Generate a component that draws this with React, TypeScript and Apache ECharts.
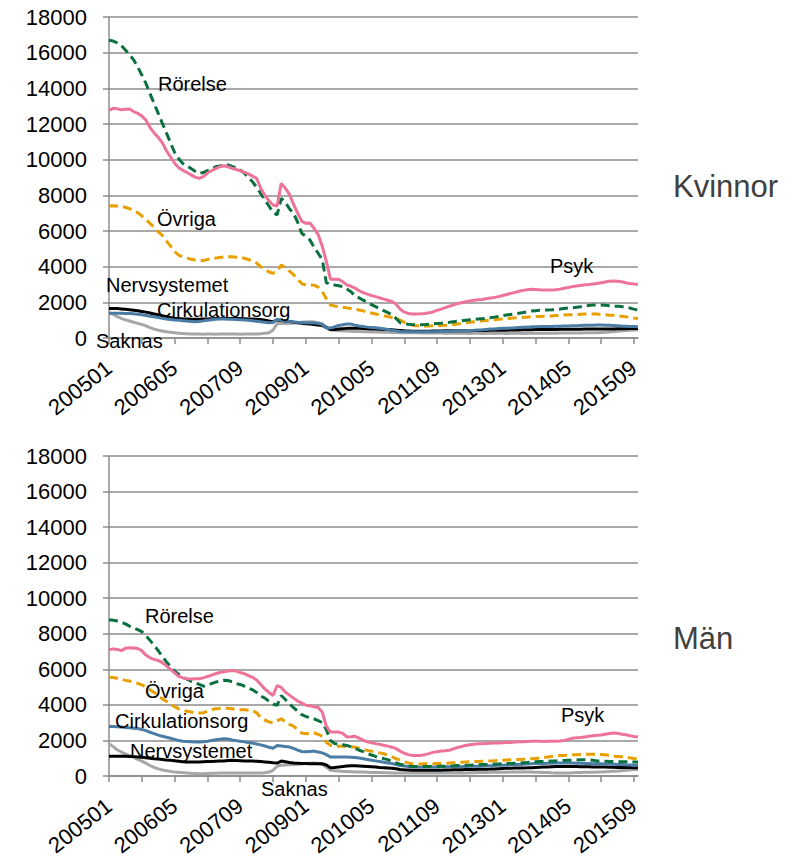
import React, { useEffect, useRef } from "react";
import * as echarts from "echarts";

// Month categories 200501 .. 201510
const months: string[] = [];
for (let y = 2005; y <= 2015; y++) {
  for (let m = 1; m <= 12; m++) {
    if (y === 2015 && m > 10) break;
    months.push(`${y}${m < 10 ? "0" + m : m}`);
  }
}

const yTicks = { min: 0, max: 18000, interval: 2000 };

// ---------- Kvinnor ----------
const kRorelse = [
  16700, 16650, 16550, 16400, 16150, 15900, 15600, 15200, 14750, 14280,
  13700, 13150, 12600, 12040, 11500, 10950, 10400, 10050, 9790, 9650,
  9500, 9350, 9230, 9280, 9380, 9480, 9600, 9650, 9700, 9700,
  9620, 9530, 9420, 9250, 9000, 8760, 8450, 8100, 7740, 7400,
  7050, 6900, 7830, 7600, 7250, 6990, 6500, 5870, 5700, 5500,
  5100, 4750, 4400, 3100, 3000, 2970, 2930, 2880, 2750, 2600,
  2350, 2250, 2120, 2000, 1870, 1760, 1650, 1530, 1420, 1300,
  1100, 850, 800, 770, 750, 730, 740, 750, 770, 790,
  810, 830, 860, 880, 910, 940, 970, 1000, 1020, 1040,
  1060, 1080, 1100, 1130, 1170, 1210, 1260, 1290, 1320, 1350,
  1390, 1430, 1470, 1510, 1530, 1550, 1560, 1570, 1580, 1600,
  1620, 1650, 1680, 1700, 1720, 1750, 1790, 1820, 1850, 1860,
  1850, 1830, 1810, 1790, 1780, 1760, 1720, 1680, 1620, 1570,
];
const kPsyk = [
  12780, 12880, 12850, 12800, 12830, 12840, 12700, 12600, 12450, 12220,
  11800, 11500, 11250, 10950, 10500, 10150, 9800, 9550, 9400, 9280,
  9150, 9020, 8950, 9050, 9250, 9380, 9500, 9600, 9660, 9600,
  9520, 9450, 9380, 9300, 9200, 9080, 8960, 8400, 8000, 7700,
  7460, 7400, 8670, 8400, 8050, 7500, 7000, 6550, 6430, 6450,
  6150, 5800, 5150, 4300, 3300, 3290, 3290, 3150, 2980, 2900,
  2800, 2650, 2540, 2460, 2380, 2320, 2250, 2180, 2120, 2050,
  1900, 1620, 1450, 1380, 1350, 1350, 1360, 1380, 1410, 1460,
  1550, 1620, 1700, 1780, 1860, 1930, 1980, 2030, 2080, 2120,
  2140, 2160, 2200, 2240, 2270, 2320, 2380, 2440, 2500, 2560,
  2620, 2670, 2710, 2730, 2720, 2700, 2690, 2690, 2690, 2700,
  2740, 2790, 2830, 2880, 2920, 2950, 2980, 3000, 3030, 3060,
  3100, 3140, 3180, 3200, 3180, 3150, 3100, 3060, 3030, 3020,
];
const kOvriga = [
  7400, 7420, 7400, 7370, 7330, 7250, 7150, 7030, 6850, 6650,
  6430, 6200, 5950, 5750, 5450, 5150, 4850, 4650, 4550, 4480,
  4420, 4370, 4340, 4340, 4400, 4450, 4480, 4520, 4550, 4560,
  4550, 4530, 4520, 4470, 4400, 4330, 4200, 4000, 3850, 3700,
  3630, 3750, 4090, 3950, 3750, 3550, 3300, 3050, 2970, 2970,
  2960, 2850, 2600, 2200, 1850, 1800, 1760, 1720, 1690, 1650,
  1610, 1570, 1520, 1460, 1400, 1350, 1300, 1250, 1200, 1150,
  1100, 1000, 880, 780, 720, 690, 680, 670, 670, 680,
  690, 700, 710, 730, 760, 790, 820, 850, 880, 910,
  930, 960, 980, 1000, 1020, 1050, 1070, 1090, 1110, 1130,
  1150, 1160, 1170, 1190, 1200, 1210, 1220, 1230, 1240, 1260,
  1270, 1290, 1300, 1310, 1320, 1330, 1340, 1350, 1350, 1340,
  1320, 1300, 1280, 1270, 1250, 1220, 1190, 1160, 1120, 1100,
];
const kNerv = [
  1660, 1660, 1650, 1630, 1610, 1590, 1560, 1530, 1490, 1450,
  1400, 1350, 1300, 1250, 1200, 1150, 1110, 1090, 1070, 1060,
  1050, 1050, 1050, 1060, 1070, 1080, 1090, 1100, 1100, 1100,
  1100, 1100, 1090, 1080, 1070, 1060, 1050, 1040, 1000, 950,
  910, 1010, 980, 950, 920, 890, 860, 830, 800, 780,
  760, 730, 700, 600, 470, 480, 500, 520, 540, 550,
  550, 540, 530, 520, 510, 500, 490, 480, 470, 460,
  440, 420, 400, 390, 380, 380, 380, 380, 380, 390,
  390, 390, 400, 400, 400, 410, 410, 410, 410, 420,
  420, 420, 420, 430, 430, 430, 440, 440, 450, 450,
  450, 460, 460, 460, 470, 470, 470, 480, 480, 480,
  490, 490, 490, 490, 490, 490, 500, 500, 500, 500,
  510, 510, 510, 510, 520, 520, 520, 530, 530, 530,
];
const kCirk = [
  1380, 1390, 1390, 1390, 1380, 1380, 1360, 1330, 1300, 1260,
  1220, 1190, 1150, 1110, 1070, 1040, 1010, 990, 970, 950,
  930, 910, 930, 960, 990, 1020, 1050, 1060, 1060, 1050,
  1050, 1040, 1030, 1010, 990, 970, 940, 910, 880, 860,
  870, 1050, 1000, 950, 920, 900, 880, 870, 860, 850,
  840, 820, 750, 560, 560, 620, 700, 740, 780, 780,
  720, 670, 640, 610, 590, 570, 550, 520, 480, 440,
  400, 360, 350, 350, 350, 350, 350, 350, 350, 350,
  350, 360, 370, 380, 390, 400, 400, 410, 420, 430,
  450, 460, 480, 500, 510, 530, 540, 550, 560, 570,
  590, 600, 610, 630, 630, 640, 640, 650, 650, 660,
  660, 670, 670, 680, 690, 700, 710, 720, 720, 730,
  730, 720, 710, 700, 690, 670, 660, 650, 640, 630,
];
const kSaknas = [
  1450, 1330, 1200, 1100, 1020, 950, 880, 820, 760, 680,
  580, 500, 440, 390, 350, 320, 290, 270, 250, 240,
  230, 220, 220, 215, 220, 220, 215, 220, 220, 225,
  220, 220, 215, 220, 220, 230, 230, 240, 260, 300,
  450, 800, 820, 820, 820, 840, 860, 880, 900, 910,
  900, 860, 800, 600, 450, 430, 410, 400, 390, 380,
  370, 360, 350, 345, 340, 335, 330, 325, 320, 315,
  310, 300, 300, 295, 290, 290, 285, 285, 280, 280,
  275, 275, 270, 270, 265, 265, 260, 260, 255, 260,
  260, 255, 260, 260, 255, 260, 260, 255, 260, 260,
  260, 255, 260, 260, 260, 265, 265, 270, 270, 270,
  275, 275, 280, 280, 285, 285, 290, 290, 295, 300,
  310, 320, 340, 360, 380, 400, 420, 430, 450, 460,
];

// ---------- Män ----------
const mRorelse = [
  8785, 8760, 8720, 8650, 8560, 8430, 8330, 8230, 8120, 7900,
  7630, 7350, 7050, 6720, 6420, 6150, 5900, 5720, 5550, 5450,
  5330, 5250, 5150, 5050, 5100, 5200, 5280, 5340, 5380, 5370,
  5300, 5200, 5150, 5050, 4950, 4850, 4700, 4500, 4380, 4200,
  4050, 3970, 4530, 4300, 4060, 3850, 3650, 3450, 3350, 3280,
  3220, 3120, 3000, 2600, 2000, 1830, 1790, 1760, 1720, 1640,
  1550, 1450, 1370, 1260, 1180, 1100, 1030, 980, 920, 820,
  730, 660, 600, 560, 540, 530, 535, 530, 540, 545,
  540, 550, 555, 560, 570, 585, 590, 600, 610, 615,
  630, 640, 645, 660, 670, 680, 690, 700, 705, 720,
  730, 750, 765, 790, 800, 810, 820, 830, 845, 850,
  860, 870, 880, 890, 900, 910, 920, 910, 880, 850,
  840, 830, 820, 810, 800, 805, 800, 790, 790, 790,
];
const mPsyk = [
  7100, 7150, 7120, 7050, 7180, 7210, 7200, 7170, 7050, 6800,
  6650, 6560, 6500, 6380, 6200, 6000, 5800, 5600, 5520, 5470,
  5460, 5470, 5470, 5520, 5600, 5670, 5750, 5820, 5860, 5900,
  5940, 5900, 5820, 5760, 5650, 5550, 5400, 5150, 4900, 4700,
  4530, 5090, 4980, 4720, 4550, 4380, 4220, 4100, 3980, 3950,
  3900, 3850, 3600, 2800, 2470, 2480, 2470, 2400, 2200, 2210,
  2230, 2130, 2020, 1920, 1870, 1820, 1780, 1730, 1680, 1620,
  1540, 1400, 1280, 1200, 1160, 1150, 1160, 1200, 1260, 1330,
  1370, 1400, 1420, 1450, 1530, 1600, 1660, 1720, 1760, 1790,
  1810, 1820, 1830, 1840, 1850, 1850, 1870, 1880, 1890, 1910,
  1920, 1930, 1940, 1950, 1950, 1950, 1940, 1950, 1960, 1960,
  1970, 2000, 2060, 2120, 2150, 2170, 2200, 2230, 2260, 2290,
  2310, 2350, 2390, 2420, 2400, 2350, 2320, 2270, 2220, 2190,
];
const mOvriga = [
  5560, 5540, 5500, 5440, 5380, 5340, 5280, 5210, 5130, 5000,
  4850, 4700, 4500, 4350, 4200, 4050, 3900, 3780, 3700, 3640,
  3600, 3570, 3550, 3560, 3640, 3730, 3780, 3800, 3820, 3810,
  3780, 3740, 3730, 3720, 3700, 3690, 3550, 3300, 3150, 3050,
  2980, 3100, 3220, 3050, 2900, 2800, 2600, 2420, 2380, 2390,
  2420, 2350, 2230, 1900, 1720, 1700, 1680, 1670, 1660, 1640,
  1620, 1560, 1500, 1440, 1400, 1350, 1300, 1250, 1170, 1080,
  980, 880, 800, 740, 690, 680, 680, 690, 690, 690,
  700, 710, 720, 730, 740, 750, 770, 790, 800, 810,
  820, 830, 840, 850, 860, 880, 890, 900, 910, 920,
  930, 940, 960, 970, 990, 1010, 1040, 1070, 1100, 1130,
  1150, 1160, 1180, 1190, 1200, 1210, 1220, 1220, 1220, 1220,
  1210, 1190, 1160, 1120, 1100, 1080, 1050, 1020, 990, 970,
];
const mNerv = [
  1110, 1110, 1110, 1110, 1110, 1100, 1090, 1070, 1050, 1030,
  1000, 970, 950, 930, 900, 880, 860, 830, 800, 790,
  790, 790, 790, 800, 810, 820, 830, 840, 850, 870,
  880, 870, 860, 850, 840, 840, 830, 810, 790, 770,
  740, 730, 840, 800, 760, 730, 720, 710, 700, 690,
  690, 690, 690, 620, 470, 480, 500, 530, 560, 580,
  570, 560, 550, 540, 520, 500, 480, 470, 450, 430,
  410, 370, 350, 340, 330, 325, 320, 320, 320, 320,
  325, 330, 335, 340, 345, 350, 355, 360, 365, 370,
  375, 380, 385, 390, 400, 410, 420, 430, 440, 445,
  450, 455, 460, 470, 480, 490, 500, 510, 520, 530,
  535, 540, 540, 535, 530, 525, 520, 515, 510, 510,
  505, 500, 495, 490, 485, 480, 480, 475, 470, 470,
];
const mCirk = [
  2790, 2780, 2770, 2750, 2730, 2710, 2690, 2670, 2620, 2550,
  2460, 2380, 2300, 2240, 2180, 2120, 2060, 2000, 1960, 1940,
  1920, 1910, 1910, 1930, 1960, 2000, 2040, 2070, 2100, 2080,
  2030, 1990, 1950, 1920, 1880, 1850, 1800, 1750, 1690, 1620,
  1560, 1720, 1690, 1660, 1630, 1550, 1460, 1380, 1360, 1380,
  1400, 1350, 1300, 1200, 1070, 1070, 1070, 1070, 1070, 1060,
  1040, 1010, 970, 930, 890, 850, 810, 770, 730, 700,
  650, 590, 560, 530, 510, 510, 505, 505, 510, 510,
  510, 515, 515, 520, 520, 525, 530, 540, 545, 550,
  555, 560, 570, 575, 585, 600, 610, 620, 630, 640,
  650, 660, 675, 690, 700, 705, 710, 715, 720, 725,
  730, 730, 730, 725, 720, 715, 705, 700, 695, 690,
  685, 680, 670, 660, 650, 640, 630, 620, 610, 600,
];
const mSaknas = [
  1820, 1650, 1480, 1350, 1250, 1150, 1050, 940, 840, 720,
  590, 480, 400, 340, 300, 260, 230, 210, 190, 170,
  150, 140, 130, 130, 140, 150, 160, 165, 170, 170,
  170, 175, 170, 170, 165, 170, 170, 175, 180, 220,
  320, 550, 600, 620, 630, 640, 660, 680, 700, 720,
  730, 700, 660, 500, 320, 300, 280, 260, 250, 240,
  230, 225, 220, 210, 200, 195, 190, 185, 180, 175,
  170, 170, 175, 170, 170, 165, 170, 170, 175, 170,
  170, 165, 170, 170, 175, 170, 170, 175, 180, 185,
  190, 195, 200, 205, 210, 210, 215, 215, 220, 220,
  220, 225, 220, 220, 215, 210, 200, 190, 180, 175,
  170, 170, 175, 180, 190, 200, 205, 210, 215, 220,
  230, 240, 250, 265, 280, 300, 320, 340, 360, 370,
];

const seriesNames = ["Saknas", "Nervsystemet", "Cirkulationsorg", "Övriga", "Rörelse", "Psyk"];
const seriesColors = ["#A6A6A6", "#000000", "#4A7DA6", "#E8A000", "#0B7040", "#EE7398"];
const dashedSeries = [false, false, false, true, true, false];
const kData = [kSaknas, kNerv, kCirk, kOvriga, kRorelse, kPsyk];
const mData = [mSaknas, mNerv, mCirk, mOvriga, mRorelse, mPsyk];

const FONT = "'Liberation Sans', Arial, Helvetica, sans-serif";
const GRID_COLOR = "#8C8C8C";

function makeLabel(text: string, x: number, y: number, size = 20, color = "#000") {
  return {
    type: "text",
    x,
    y,
    silent: true,
    z: 100,
    style: {
      text,
      fill: color,
      fontSize: size,
      fontFamily: FONT,
      align: "left",
      verticalAlign: "middle",
      textAlign: "left",
      textVerticalAlign: "middle",
    },
  };
}

export default function App() {
  const ref = useRef<HTMLDivElement>(null);
  useEffect(() => {
    if (!ref.current) return;
    const chart = echarts.init(ref.current, undefined, { renderer: "svg" });
    const axisLineStyle = { color: GRID_COLOR, width: 1.5 };
    const xAxes = [0, 1].map((gi) => ({
      type: "category",
      gridIndex: gi,
      data: months,
      boundaryGap: false,
      axisLine: { show: true, lineStyle: axisLineStyle },
      axisTick: { show: true, interval: 7, length: 6, lineStyle: axisLineStyle },
      axisLabel: {
        interval: 15,
        rotate: 38,
        fontSize: 22,
        fontFamily: FONT,
        color: "#000",
        margin: 27,
      },
      splitLine: { show: false },
    }));
    const yAxes = [0, 1].map((gi) => ({
      type: "value",
      gridIndex: gi,
      min: yTicks.min,
      max: yTicks.max,
      interval: yTicks.interval,
      axisLine: { show: true, lineStyle: axisLineStyle },
      axisTick: { show: true, length: 6, lineStyle: axisLineStyle },
      axisLabel: {
        fontSize: 22,
        fontFamily: FONT,
        color: "#000",
        margin: 22,
        formatter: (v: number) => String(v),
      },
      splitLine: { show: true, lineStyle: { color: GRID_COLOR, width: 1.5 } },
    }));
    const series: any[] = [];
    [kData, mData].forEach((set, gi) => {
      set.forEach((d, i) => {
        series.push({
          type: "line",
          name: seriesNames[i] + (gi === 0 ? " (Kvinnor)" : " (Män)"),
          xAxisIndex: gi,
          yAxisIndex: gi,
          data: d,
          symbol: "none",
          smooth: false,
          z: 2 + i,
          lineStyle: {
            color: seriesColors[i],
            width: 3,
            type: dashedSeries[i] ? [9, 5] : "solid",
          },
        });
      });
    });
    chart.setOption({
      animation: false,
      backgroundColor: "#ffffff",
      grid: [
        { left: 109, top: 17, width: 529, height: 321, containLabel: false, outerBoundsMode: "none" },
        { left: 109, top: 456, width: 529, height: 320, containLabel: false, outerBoundsMode: "none" },
      ],
      xAxis: xAxes,
      yAxis: yAxes,
      series,
      graphic: [
        makeLabel("Rörelse", 158, 84),
        makeLabel("Övriga", 157, 219),
        makeLabel("Nervsystemet", 106, 285),
        makeLabel("Cirkulationsorg", 157, 310),
        makeLabel("Saknas", 96, 341),
        makeLabel("Psyk", 550, 266),
        makeLabel("Rörelse", 145, 616),
        makeLabel("Övriga", 145, 691),
        makeLabel("Cirkulationsorg", 115, 721),
        makeLabel("Nervsystemet", 130, 751),
        makeLabel("Saknas", 261, 789),
        makeLabel("Psyk", 561, 715),
        makeLabel("Kvinnor", 673, 186, 31, "#404040"),
        makeLabel("Män", 673, 638, 31, "#404040"),
      ],
    });
    return () => chart.dispose();
  }, []);
  return (
    <div
      ref={ref}
      style={{ position: "absolute", left: 0, top: 0, width: 798, height: 858, background: "#fff" }}
    />
  );
}
